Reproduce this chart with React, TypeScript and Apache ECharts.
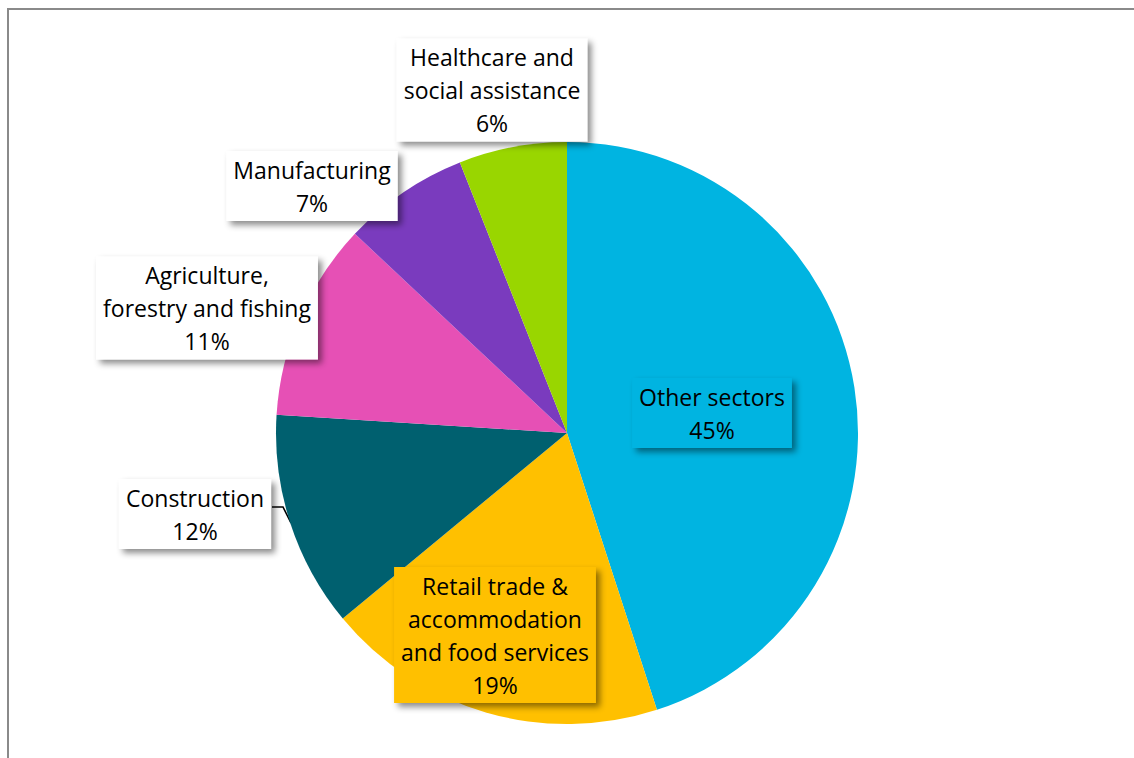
import React, { useEffect, useRef } from "react";
import * as echarts from "echarts";

const categories = [
  "Other sectors",
  "Retail trade & accommodation and food services",
  "Construction",
  "Agriculture, forestry and fishing",
  "Manufacturing",
  "Healthcare and social assistance",
];
const labelLines = [
  "Other sectors",
  "Retail trade &\naccommodation\nand food services",
  "Construction",
  "Agriculture,\nforestry and fishing",
  "Manufacturing",
  "Healthcare and\nsocial assistance",
];
const shares = [45, 19, 12, 11, 7, 6];
const colors = ["#00B4E1", "#FFC000", "#00606F", "#E650B5", "#7A3BBE", "#99D600"];
const labelBg = ["#00B4E1", "#FFC000", "#FFFFFF", "#FFFFFF", "#FFFFFF", "#FFFFFF"];
const labelCenters = [
  [712, 413],
  [495, 635],
  [195, 514],
  [207, 308],
  [312, 186],
  [492, 90],
];

export default function App() {
  const ref = useRef<HTMLDivElement>(null);
  useEffect(() => {
    if (!ref.current) return;
    const chart = echarts.init(ref.current, null, { renderer: "svg" });
    chart.setOption({
      animation: false,
      backgroundColor: "#ffffff",
      graphic: [
        { type: "line", shape: { x1: 8, y1: 9, x2: 1134, y2: 9 }, style: { stroke: "#8a8a8a", lineWidth: 2 } },
        { type: "line", shape: { x1: 8, y1: 8, x2: 8, y2: 758 }, style: { stroke: "#8a8a8a", lineWidth: 2 } },
      ],
      series: [
        {
          type: "pie",
          center: [567, 433],
          radius: 291,
          startAngle: 90,
          clockwise: true,
          data: categories.map((name, i) => ({
            name,
            value: shares[i],
            itemStyle: { color: colors[i] },
            label: { backgroundColor: labelBg[i] },
            labelLine: { show: i === 2 },
          })),
          label: {
            show: true,
            position: "outside",
            formatter: (p: any) => `${labelLines[p.dataIndex]}\n${shares[p.dataIndex]}%`,
            fontFamily: "Open Sans",
            fontSize: 23,
            lineHeight: 33,
            color: "#000000",
            align: "center",
            padding: [2, 7, 2, 7],
            shadowColor: "rgba(0,0,0,0.45)",
            shadowBlur: 6,
            shadowOffsetX: 4,
            shadowOffsetY: 4,
          },
          labelLine: {
            show: false,
            lineStyle: { color: "#000000", width: 1.6 },
          },
          labelLayout: (p: any) => {
            const c = labelCenters[p.dataIndex];
            const res: any = { x: c[0], y: c[1], align: "center", verticalAlign: "middle" };
            if (p.dataIndex === 2) {
              res.labelLinePoints = [
                [291, 523],
                [283, 507],
                [272, 507],
              ];
            }
            return res;
          },
          emphasis: { disabled: true },
        },
      ],
    });
    return () => chart.dispose();
  }, []);
  return (
    <div style={{ position: "fixed", left: 0, top: 0, width: 1134, height: 758, overflow: "hidden" }}>
      <div ref={ref} style={{ width: 1134, height: 758 }} />
    </div>
  );
}
